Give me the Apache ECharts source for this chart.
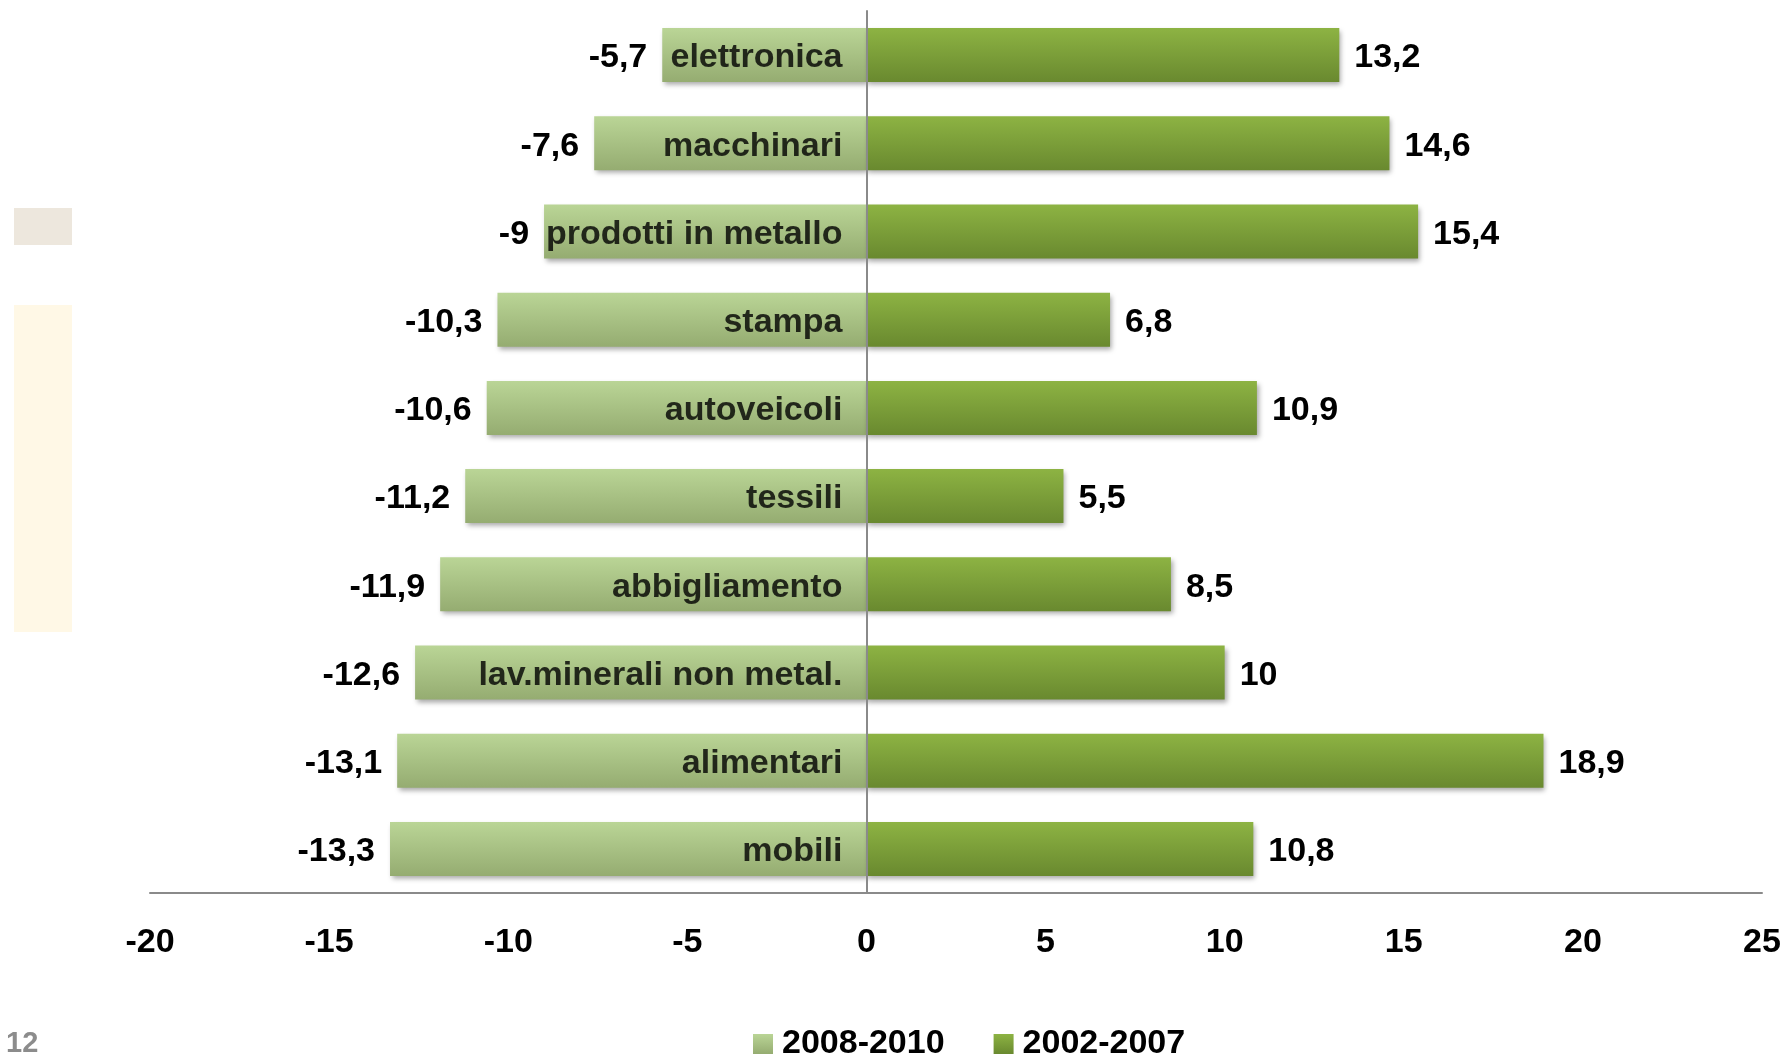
<!DOCTYPE html>
<html>
<head>
<meta charset="utf-8">
<script src="https://cdn.jsdelivr.net/npm/echarts@6/dist/echarts.min.js"></script>
<style>
  html, body { margin: 0; padding: 0; background: #ffffff; }
  #chart { width: 1785px; height: 1056px; }
</style>
</head>
<body>
<div id="chart"></div>
<script>
// Sectors, listed top to bottom
const categories = [
  'elettronica', 'macchinari', 'prodotti in metallo', 'stampa', 'autoveicoli',
  'tessili', 'abbigliamento', 'lav.minerali non metal.', 'alimentari', 'mobili'
];
// Change over 2008-2010 (left side)
const values2008_2010 = [-5.7, -7.6, -9, -10.3, -10.6, -11.2, -11.9, -12.6, -13.1, -13.3];
// Change over 2002-2007 (right side)
const values2002_2007 = [13.2, 14.6, 15.4, 6.8, 10.9, 5.5, 8.5, 10, 18.9, 10.8];
const seriesNames = ['2008-2010', '2002-2007'];
const xTicks = { min: -20, max: 25, step: 5 };

const FONT = "'Liberation Sans', Arial, sans-serif";
const fmt = v => String(v).replace('.', ',');

function vGrad(top, bottom) {
  return new echarts.graphic.LinearGradient(0, 0, 0, 1, [
    { offset: 0, color: top },
    { offset: 1, color: bottom }
  ]);
}

const shadow = {
  shadowBlur: 5,
  shadowOffsetX: 2,
  shadowOffsetY: 3,
  shadowColor: 'rgba(0,0,0,0.35)'
};

const labelText = {
  fontFamily: FONT,
  fontWeight: 'bold',
  fontSize: 34,
  color: '#000000'
};

// sector names sit just left of the zero line, one per category
const nameAnchors = categories.map(c => [0, c]);

const chart = echarts.init(document.getElementById('chart'), null, { renderer: 'canvas' });

chart.setOption({
  backgroundColor: '#ffffff',
  animation: false,
  grid: { left: 150, right: 23, top: 11, bottom: 163, containLabel: false, outerBoundsMode: 'none' },
  legend: {
    data: seriesNames,
    left: 748,
    top: 1022,
    icon: 'rect',
    itemWidth: 20,
    itemHeight: 20,
    itemGap: 49,
    textStyle: Object.assign({}, labelText, { padding: [0, 0, 0, 4] }),
    itemStyle: { shadowBlur: 0, shadowOffsetX: 0, shadowOffsetY: 0 }
  },
  xAxis: {
    type: 'value',
    min: xTicks.min,
    max: xTicks.max,
    interval: xTicks.step,
    axisLine: { show: true, lineStyle: { color: '#8a8a8a', width: 2 } },
    axisTick: { show: false },
    splitLine: { show: false },
    axisLabel: Object.assign({}, labelText, { margin: 33 })
  },
  yAxis: {
    type: 'category',
    data: categories,
    inverse: true,
    z: 10,
    axisLine: { show: true, onZero: true, lineStyle: { color: '#8a8a8a', width: 2 } },
    axisTick: { show: false },
    splitLine: { show: false },
    axisLabel: { show: false }
  },
  series: [
    {
      name: seriesNames[0],
      type: 'bar',
      data: values2008_2010,
      barWidth: 54,
      barGap: '-100%',
      itemStyle: Object.assign({ color: vGrad('#bad596', '#95ac71') }, shadow),
      label: Object.assign({
        show: true,
        position: 'left',
        distance: 15,
        offset: [0, 3],
        formatter: p => fmt(p.value)
      }, labelText)
    },
    {
      name: seriesNames[1],
      type: 'bar',
      data: values2002_2007,
      barWidth: 54,
      itemStyle: Object.assign({ color: vGrad('#8db343', '#69892f') }, shadow),
      label: Object.assign({
        show: true,
        position: 'right',
        distance: 15,
        offset: [0, 3],
        formatter: p => fmt(p.value)
      }, labelText)
    },
    {
      name: 'settori',
      type: 'scatter',
      data: nameAnchors,
      symbol: 'rect',
      symbolSize: 0,
      z: 6,
      silent: true,
      label: Object.assign({
        show: true,
        position: 'left',
        distance: 24,
        offset: [0, 3],
        formatter: p => p.value[1]
      }, labelText)
    }
  ],
  graphic: [
    { type: 'rect', left: 14, top: 208, shape: { width: 58, height: 37 }, style: { fill: '#ede7dd' }, silent: true },
    { type: 'rect', left: 14, top: 305, shape: { width: 58, height: 327 }, style: { fill: '#fff8e6' }, silent: true },
    {
      type: 'text', left: 6, top: 1029,
      style: { text: '12', fill: '#8c8c8c', font: "bold 29px 'Liberation Sans', Arial, sans-serif" },
      silent: true
    }
  ]
});
</script>
</body>
</html>
